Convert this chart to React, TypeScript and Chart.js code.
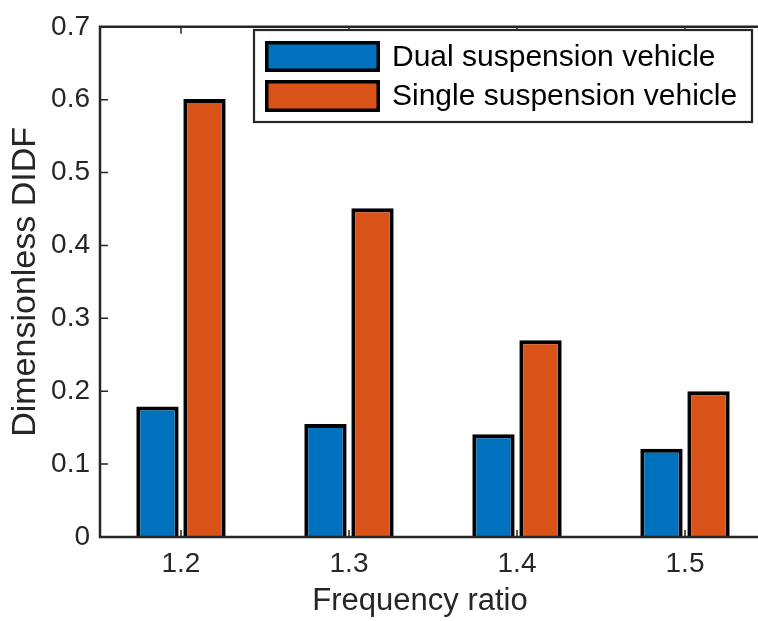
import React, { useEffect, useRef } from "react";
import { Chart, registerables } from "chart.js";

Chart.register(...registerables);

const categories = ["1.2", "1.3", "1.4", "1.5"];
const dualValues = [0.179, 0.155, 0.141, 0.121];
const singleValues = [0.601, 0.451, 0.27, 0.2];
const yTicks = [0, 0.1, 0.2, 0.3, 0.4, 0.5, 0.6, 0.7];
const seriesLabels = ["Dual suspension vehicle", "Single suspension vehicle"];
const seriesColors = ["#0072BD", "#D95319"];
const xTitle = "Frequency ratio";
const yTitle = "Dimensionless DIDF";

const FONT = "'Liberation Sans', Arial, Helvetica, sans-serif";
const AXIS_COLOR = "#262626";

const framePlugin = {
  id: "matlabFrame",
  afterDatasetsDraw(chart: any) {
    const { ctx, chartArea: a, scales } = chart;
    const xs = scales.x;
    const ys = scales.y;
    ctx.save();
    // inward ticks
    ctx.strokeStyle = AXIS_COLOR;
    ctx.lineWidth = 1.5;
    ctx.beginPath();
    yTicks.forEach((v) => {
      const py = ys.getPixelForValue(v);
      ctx.moveTo(a.left, py);
      ctx.lineTo(a.left + 8, py);
    });
    categories.forEach((_, i) => {
      const px = xs.getPixelForValue(i);
      ctx.moveTo(px, a.bottom);
      ctx.lineTo(px, a.bottom - 7);
      ctx.moveTo(px, a.top);
      ctx.lineTo(px, a.top + 7);
    });
    ctx.stroke();
    // axes lines (left, bottom, top); right side lies beyond the visible canvas
    ctx.lineWidth = 2.5;
    ctx.beginPath();
    ctx.moveTo(a.right + 5, a.top);
    ctx.lineTo(a.left, a.top);
    ctx.lineTo(a.left, a.bottom);
    ctx.lineTo(a.right + 5, a.bottom);
    ctx.stroke();

    // x title
    ctx.fillStyle = AXIS_COLOR;
    ctx.font = `31px ${FONT}`;
    ctx.textAlign = "center";
    ctx.textBaseline = "alphabetic";
    ctx.fillText(xTitle, 420, 610);

    // legend
    const lg = { left: 254, top: 30, right: 752, bottom: 122 };
    ctx.fillStyle = "#ffffff";
    ctx.fillRect(lg.left, lg.top, lg.right - lg.left, lg.bottom - lg.top);
    ctx.lineWidth = 2.2;
    ctx.strokeStyle = AXIS_COLOR;
    ctx.strokeRect(lg.left, lg.top, lg.right - lg.left, lg.bottom - lg.top);
    const rows = [
      { top: 41, bottom: 72 },
      { top: 80, bottom: 112 },
    ];
    chart.data.datasets.forEach((ds: any, i: number) => {
      const r = rows[i];
      ctx.fillStyle = ds.backgroundColor;
      ctx.fillRect(265, r.top, 115, r.bottom - r.top);
      ctx.lineWidth = 3.5;
      ctx.strokeStyle = "#000";
      ctx.strokeRect(266.75, r.top + 1.75, 111.5, r.bottom - r.top - 3.5);
      ctx.fillStyle = "#000";
      ctx.font = `30px ${FONT}`;
      ctx.textBaseline = "middle";
      ctx.textAlign = "left";
      ctx.fillText(ds.label, 392, (r.top + r.bottom) / 2 + 1);
    });
    ctx.restore();
  },
};

export default function App() {
  const canvasRef = useRef<HTMLCanvasElement | null>(null);

  useEffect(() => {
    if (!canvasRef.current) return;
    const chart = new Chart(canvasRef.current, {
      type: "bar",
      data: {
        datasets: [
          {
            label: seriesLabels[0],
            data: categories.map((_, i) => ({ x: i, y: dualValues[i] })),
            backgroundColor: seriesColors[0],
            borderColor: "#000",
            borderWidth: 4,
          },
          {
            label: seriesLabels[1],
            data: categories.map((_, i) => ({ x: i, y: singleValues[i] })),
            backgroundColor: seriesColors[1],
            borderColor: "#000",
            borderWidth: 4,
          },
        ],
      },
      options: {
        responsive: false,
        animation: false,
        devicePixelRatio: 1,
        layout: { padding: { left: 0, top: 21, right: 0, bottom: 0 } },
        datasets: {
          bar: { categoryPercentage: 0.56, barPercentage: 0.9 },
        },
        plugins: {
          legend: { display: false },
          tooltip: { enabled: false },
        },
        scales: {
          x: {
            type: "linear",
            min: -0.482,
            max: 3.4345,
            offset: false,
            grid: { display: false, drawTicks: false },
            border: { display: false },
            afterBuildTicks: (scale: any) => {
              scale.ticks = categories.map((_, i) => ({ value: i }));
            },
            afterFit: (scale: any) => {
              scale.height = 84;
              scale.paddingRight = 0;
            },
            ticks: {
              padding: 10,
              maxRotation: 0,
              autoSkip: false,
              color: AXIS_COLOR,
              font: { family: FONT, size: 28 },
              callback: (v: any) => categories[Math.round(Number(v))] ?? "",
            },
            title: { display: false, text: xTitle },
          },
          y: {
            min: 0,
            max: 0.7,
            grid: { display: false, drawTicks: false },
            border: { display: false },
            afterBuildTicks: (scale: any) => {
              scale.ticks = yTicks.map((v) => ({ value: v }));
            },
            afterFit: (scale: any) => {
              scale.width = 100;
            },
            ticks: {
              padding: 10,
              color: AXIS_COLOR,
              font: { family: FONT, size: 28 },
              callback: (v: any) => (Number(v) === 0 ? "0" : Number(v).toFixed(1)),
            },
            title: {
              display: true,
              text: yTitle,
              color: AXIS_COLOR,
              font: { family: FONT, size: 34 },
              padding: { top: 5, bottom: 0 },
            },
          },
        },
      },
      plugins: [framePlugin],
    } as any);
    return () => chart.destroy();
  }, []);

  return (
    <div
      style={{
        position: "fixed",
        left: 0,
        top: 0,
        width: 758,
        height: 621,
        overflow: "hidden",
        background: "#ffffff",
      }}
    >
      <canvas ref={canvasRef} width={758} height={621} style={{ width: 758, height: 621, display: "block" }} />
    </div>
  );
}
